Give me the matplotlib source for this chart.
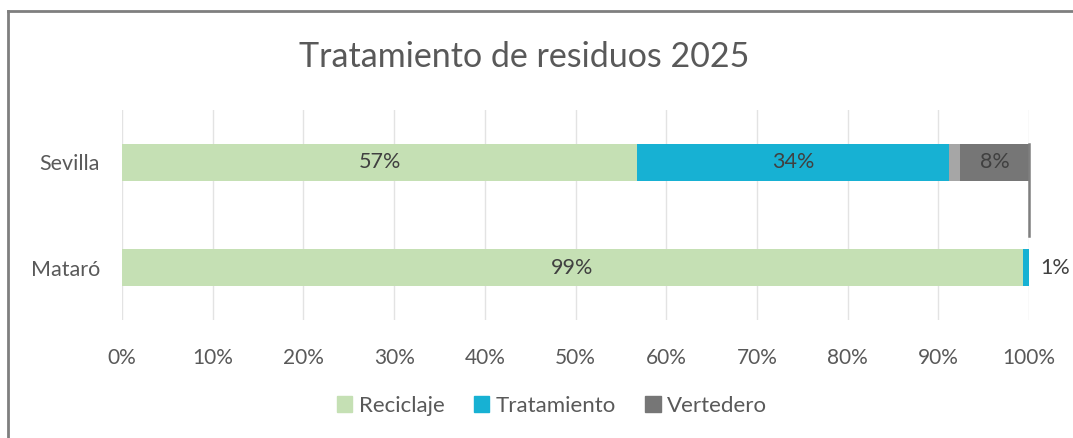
import matplotlib.pyplot as plt
from matplotlib.lines import Line2D
from matplotlib.patches import Patch

plt.rcParams['font.family'] = ['Lato', 'DejaVu Sans']

# data (percent of total)
cities = ['Mataró', 'Sevilla']
reciclaje = [99.3, 56.8]
tratamiento = [0.7, 34.4]
otros = [0.0, 1.2]          # small unlabeled grey slice
vertedero = [0.0, 7.6]

series_names = ['Reciclaje', 'Tratamiento', 'Vertedero']
ticks = [0, 10, 20, 30, 40, 50, 60, 70, 80, 90, 100]

c_rec = '#c5e0b4'
c_tra = '#17b1d3'
c_otr = '#a6a6a6'
c_ver = '#767676'
txt = '#595959'

fig = plt.figure(figsize=(10.73, 4.38), dpi=100)
ax = fig.add_axes([122 / 1073, 1 - 320 / 438, 907 / 1073, 210 / 438])

y = range(len(cities))
h = 0.36
left = [0.0] * len(cities)
for vals, col in [(reciclaje, c_rec), (tratamiento, c_tra), (otros, c_otr), (vertedero, c_ver)]:
    ax.barh(y, vals, height=h, left=left, color=col, edgecolor='none', zorder=2)
    left = [l + v for l, v in zip(left, vals)]

# data labels
def label(i, start, val, outside=False):
    if outside:
        ax.text(start + val + 1.2, i, f'{val:.0f}%', va='center', ha='left',
                fontsize=15.5, color='#404040')
    else:
        ax.text(start + val / 2, i, f'{val:.0f}%', va='center', ha='center',
                fontsize=15.5, color='#404040', zorder=3)

label(1, 0, reciclaje[1])
label(1, reciclaje[1], tratamiento[1])
label(1, reciclaje[1] + tratamiento[1] + otros[1], vertedero[1])
label(0, 0, reciclaje[0])
label(0, reciclaje[0], tratamiento[0], outside=True)

# dark connector line at 100%
ax.plot([100, 100], [1 + h / 2, 0.3], color='#7f7f7f', lw=1.8, zorder=3, clip_on=False)

ax.set_xlim(0, 100)
ax.set_ylim(-0.5, 1.5)
ax.set_xticks(ticks)
ax.set_xticklabels([f'{t}%' for t in ticks], fontsize=15)
ax.set_yticks(list(y))
ax.set_yticklabels(cities, fontsize=15.5)
ax.tick_params(axis='both', length=0, colors=txt)
ax.tick_params(axis='x', pad=20)
ax.tick_params(axis='y', pad=16)
ax.grid(axis='x', color='#e3e3e3', lw=1, zorder=0)
for s in ax.spines.values():
    s.set_visible(False)

fig.text(524 / 1073, 1 - 57 / 438, 'Tratamiento de residuos 2025', ha='center', va='center',
         fontsize=24.5, color=txt)

handles = [Patch(color=c_rec), Patch(color=c_tra), Patch(color=c_ver)]
fig.legend(handles, series_names, loc='center', bbox_to_anchor=(552 / 1073, 1 - 406 / 438),
           ncol=3, frameon=False, fontsize=16, labelcolor=txt, handlelength=0.7,
           handleheight=0.7, handletextpad=0.3, columnspacing=1.3)

# outer chart border (only left and top visible in the crop)
fig.add_artist(Line2D([8 / 1073, 8 / 1073], [0, 1 - 11 / 438], color='#7f7f7f', lw=2,
                      transform=fig.transFigure))
fig.add_artist(Line2D([8 / 1073, 1], [1 - 11 / 438, 1 - 11 / 438], color='#7f7f7f', lw=2,
                      transform=fig.transFigure))

fig.savefig('out.png', dpi=100)
